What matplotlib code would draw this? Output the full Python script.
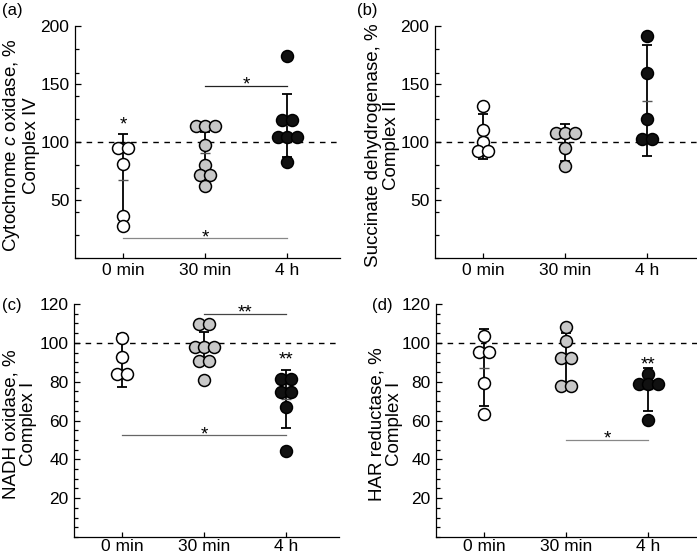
import matplotlib
matplotlib.use("Agg")
import matplotlib.pyplot as plt
import numpy as np
from matplotlib.ticker import MultipleLocator

plt.rcParams['font.family'] = ['Liberation Sans', 'DejaVu Sans']
plt.rcParams['mathtext.fontset'] = 'custom'
plt.rcParams['mathtext.rm'] = 'Liberation Sans'
plt.rcParams['mathtext.it'] = 'Liberation Sans:italic'

groups = ['0 min', '30 min', '4 h']
face = ['white', '#c8c8c8', '#111111']

# (a) cytochrome c oxidase
a_pts = [[95, 95, 81, 36.5, 27.3],
         [113.5, 113.5, 113.5, 97.7, 80, 72, 72, 62],
         [174, 118.7, 118.7, 104, 104, 104, 83]]
a_mean = [67, 90.5, 114.5]
a_sd = [40, 18.5, 27]

# (b) succinate dehydrogenase
b_pts = [[130.7, 110.6, 100, 92.5, 92.5],
         [107.8, 107.8, 107.8, 94.8, 79],
         [191.7, 160, 120, 103, 103]]
b_mean = [104.7, 99.4, 135.8]
b_sd = [19.4, 16, 48.2]

# (c) NADH oxidase
c_pts = [[102.3, 92.8, 83.7, 83.7],
         [109.5, 109.5, 98, 98, 98, 90.8, 90.8, 81.1],
         [81.3, 81.3, 74.6, 74.6, 67, 44.2]]
c_mean = [90.7, 97, 71.1]
c_sd = [13.7, 8.5, 14.9]

# (d) HAR reductase
d_pts = [[103.5, 95.4, 95.4, 79.4, 63.3],
         [108.3, 101, 92.3, 92.3, 77.7, 77.7],
         [83.7, 78.6, 78.6, 78.6, 60.2]]
d_mean = [87.2, 91.5, 76.1]
d_sd = [19.8, 13.4, 11.2]

# significance: (from, to, y, text, colour); from None = star over a single group
a_sig = [(2, 3, 148.5, '*', '#222222'), (1, 3, 17, '*', '#888888'), (None, 1, 119, '*', None)]
b_sig = []
c_sig = [(2, 3, 114.8, '**', '#444444'), (1, 3, 52.4, '*', '#666666'), (None, 3, 94, '**', None)]
d_sig = [(2, 3, 50.2, '*', '#888888'), (None, 3, 91.5, '**', None)]


def swarm(vals, step=0.12):
    vals = np.asarray(vals, float)
    off = np.zeros(len(vals))
    for v in np.unique(vals):
        idx = np.where(vals == v)[0]
        n = len(idx)
        off[idx] = (np.arange(n) - (n - 1) / 2) * step
    return off


def panel(rect, pts, mean, sd, sig, ymax, major, minor, ylab, labx, xpad):
    ax = fig.add_axes(rect)
    ax.axhline(100, color='black', lw=1, ls=(0, (4, 4)), zorder=1)
    for i, (p, m, s) in enumerate(zip(pts, mean, sd)):
        x = i + 1
        ax.errorbar(x, m, yerr=s, color='black', lw=1.3, capsize=3.3,
                    capthick=1.3, zorder=2)
        ax.plot(x, m, marker='_', ms=6.5, mew=1, color='#555555', zorder=2)
        ax.plot(x + swarm(p), p, 'o', ms=8.6, mfc=face[i], mec='black',
                mew=1.1, zorder=3, clip_on=False)
    for g0, g1, y, txt, col in sig:
        if g0 is None:
            ax.annotate(txt, (g1, y), xytext=(0, -7), textcoords='offset points',
                        ha='center', va='baseline', fontsize=13.5)
        else:
            ax.plot([g0, g1], [y, y], color=col, lw=0.9, zorder=2)
            ax.annotate(txt, ((g0 + g1) / 2, y), xytext=(0, -2.7),
                        textcoords='offset points', ha='center', va='baseline',
                        fontsize=13.5)
    ax.set_xlim(0.41, 3.64)
    ax.set_ylim(0, ymax)
    ax.set_xticks([1, 2, 3])
    ax.set_xticklabels(groups)
    ax.yaxis.set_minor_locator(MultipleLocator(minor))
    ax.set_yticks(np.arange(major, ymax + 1, major))
    for sp in ['top', 'right']:
        ax.spines[sp].set_visible(False)
    for sp in ['left', 'bottom']:
        ax.spines[sp].set_linewidth(0.9)
    ax.tick_params(axis='both', which='both', direction='in', labelsize=12.5, width=0.9)
    ax.tick_params(axis='y', which='major', length=4, pad=4)
    ax.tick_params(axis='y', which='minor', length=3)
    ax.tick_params(axis='x', which='major', length=3.5, pad=xpad)
    ax.set_ylabel(ylab, fontsize=13.5, linespacing=1.05)
    ax.yaxis.set_label_coords(labx, 0.485)
    return ax


fig = plt.figure(figsize=(6.97, 5.56), dpi=100)

panel([0.1076, 0.536, 0.380, 0.417], a_pts, a_mean, a_sd, a_sig, 200, 50, 20,
      'Cytochrome $\\mathit{c}$ oxidase, %\nComplex IV', -0.132, 3.6)
panel([0.6241, 0.536, 0.380, 0.417], b_pts, b_mean, b_sd, b_sig, 200, 50, 20,
      'Succinate dehydrogenase, %\nComplex II', -0.132, 3.6)
panel([0.1062, 0.0342, 0.380, 0.419], c_pts, c_mean, c_sd, c_sig, 120, 20, 5,
      'NADH oxidase, %\nComplex I', -0.14, 1.5)
panel([0.6255, 0.0342, 0.380, 0.419], d_pts, d_mean, d_sd, d_sig, 120, 20, 5,
      'HAR reductase, %\nComplex I', -0.125, 1.5)

fig.text(0.003, 0.995, '(a)', fontsize=12, va='top', ha='left')
fig.text(0.512, 0.995, '(b)', fontsize=12, va='top', ha='left')
fig.text(0.003, 0.464, '(c)', fontsize=12, va='top', ha='left')
fig.text(0.533, 0.464, '(d)', fontsize=12, va='top', ha='left')

fig.savefig('out.png', dpi=100)
